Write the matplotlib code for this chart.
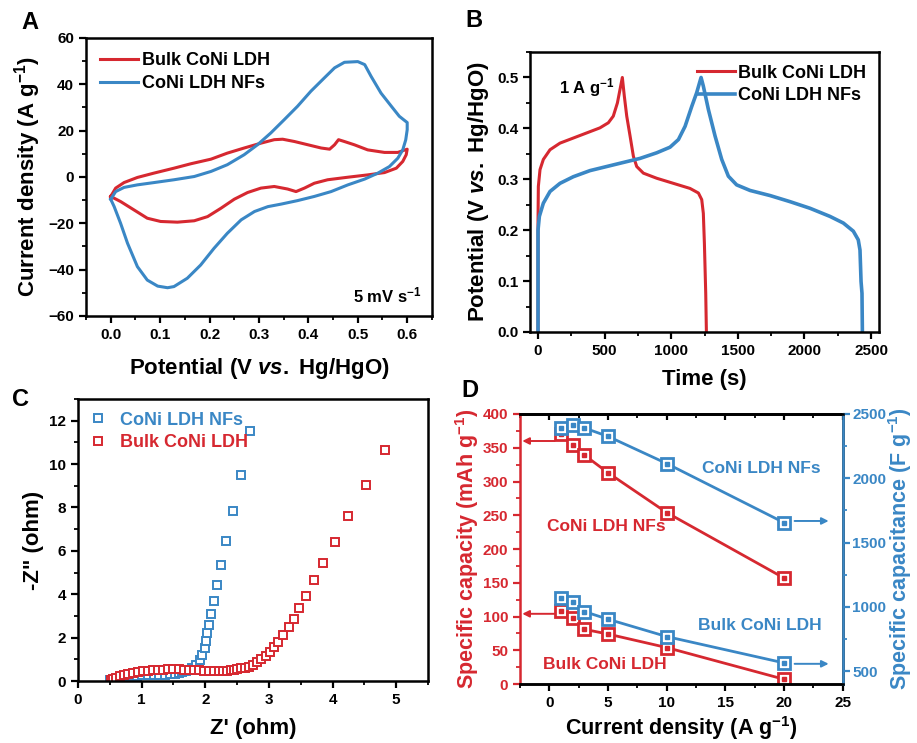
import matplotlib
matplotlib.use('Agg')
import matplotlib.pyplot as plt
from matplotlib.ticker import MultipleLocator, NullFormatter
import numpy as np

plt.rcParams['font.family'] = ['Liberation Sans', 'DejaVu Sans']
plt.rcParams['font.weight'] = 'bold'
plt.rcParams['axes.labelweight'] = 'bold'
plt.rcParams['mathtext.fontset'] = 'custom'
plt.rcParams['mathtext.rm'] = 'Liberation Sans:bold'
plt.rcParams['mathtext.it'] = 'Liberation Sans:bold:italic'
plt.rcParams['mathtext.bf'] = 'Liberation Sans:bold'
plt.rcParams['mathtext.default'] = 'rm'

RED = '#D62830'
BLUE = '#3A87C5'

# ---- A: CV at 5 mV/s ----
cv_bulk_v = [0.0, 0.01, 0.027, 0.054, 0.088, 0.128, 0.162, 0.203, 0.236, 0.27, 0.304, 0.331, 0.348,
             0.372, 0.399, 0.426, 0.443, 0.453, 0.461, 0.473, 0.493, 0.52, 0.554, 0.581, 0.6,
             0.598, 0.591, 0.578, 0.554, 0.52, 0.48, 0.439, 0.412, 0.392, 0.375, 0.358, 0.331,
             0.304, 0.277, 0.25, 0.223, 0.196, 0.169, 0.135, 0.101, 0.074, 0.047, 0.02, 0.0]
cv_bulk_i = [-8.4, -4.8, -2.4, -0.2, 1.7, 3.8, 5.7, 7.7, 10.3, 12.5, 14.6, 16.1, 16.3,
             15.3, 13.9, 12.5, 12.0, 13.9, 16.1, 15.3, 13.9, 11.7, 10.6, 10.6, 12.0,
             9.6, 6.7, 3.8, 1.9, 0.9, -0.1, -1.2, -2.7, -4.8, -6.3, -5.2, -4.1,
             -4.8, -6.7, -9.6, -13.5, -17.1, -18.9, -19.5, -19.2, -17.8, -14.2, -10.6, -8.4]
cv_nfs_v = [0.0, 0.01, 0.027, 0.054, 0.088, 0.128, 0.169, 0.203, 0.236, 0.27, 0.297, 0.324, 0.351,
            0.378, 0.405, 0.432, 0.453, 0.473, 0.5, 0.514, 0.527, 0.547, 0.568, 0.584, 0.6,
            0.6, 0.597, 0.591, 0.581, 0.564, 0.541, 0.514, 0.48, 0.446, 0.412, 0.378, 0.345,
            0.318, 0.291, 0.264, 0.236, 0.209, 0.182, 0.155, 0.128, 0.115, 0.095, 0.074, 0.054,
            0.034, 0.02, 0.007, 0.0]
cv_nfs_i = [-9.6, -6.3, -4.5, -3.4, -2.4, -1.2, 0.2, 2.4, 5.3, 9.6, 13.9, 19.0, 24.7,
            30.5, 37.0, 42.7, 47.1, 49.5, 49.8, 48.5, 43.4, 36.2, 30.5, 26.2, 23.5,
            20.4, 16.0, 11.7, 8.1, 4.5, 1.7, -0.9, -3.4, -6.3, -8.4, -10.2, -11.7,
            -12.8, -14.9, -18.5, -24.3, -30.8, -38.0, -43.7, -47.3, -47.8, -47.1, -44.5, -38.7,
            -28.6, -20.0, -12.8, -9.6]

# ---- B: GCD at 1 A/g ----
gcd_bulk_t = [0, 0, 2.5, 15, 40, 90, 165, 265, 365, 465, 528, 565, 596, 616, 633,
              648, 666, 691, 716, 741, 791, 891, 1016, 1141, 1204, 1229, 1241, 1249, 1259, 1264]
gcd_bulk_v = [0, 0.22, 0.286, 0.319, 0.339, 0.358, 0.371, 0.381, 0.391, 0.401, 0.411, 0.424, 0.45, 0.477, 0.5,
              0.463, 0.424, 0.385, 0.345, 0.325, 0.312, 0.302, 0.292, 0.282, 0.273, 0.26, 0.233, 0.174, 0.076, 0]
gcd_nfs_t = [0, 0, 10, 40, 90, 165, 265, 390, 515, 640, 766, 891, 991, 1054, 1104, 1154, 1191, 1224,
             1241, 1279, 1329, 1379, 1429, 1491, 1592, 1742, 1892, 2042, 2192, 2292, 2367, 2404,
             2417, 2425, 2432, 2435]
gcd_nfs_v = [0, 0.2, 0.227, 0.253, 0.276, 0.292, 0.305, 0.317, 0.325, 0.333, 0.341, 0.352, 0.363, 0.378,
             0.404, 0.443, 0.47, 0.5,
             0.483, 0.437, 0.385, 0.339, 0.306, 0.289, 0.278, 0.268, 0.256, 0.243, 0.227, 0.214, 0.198, 0.181,
             0.161, 0.099, 0.076, 0]

# ---- C: Nyquist ----
eis_nfs_x = [0.5, 0.54, 0.6, 0.67, 0.75, 0.83, 0.92, 1.01, 1.1, 1.19, 1.28, 1.37, 1.45, 1.52, 1.58,
             1.64, 1.69, 1.73, 1.79, 1.86, 1.91, 1.95, 1.99, 2.01, 2.03, 2.06, 2.09, 2.13, 2.18,
             2.24, 2.33, 2.43, 2.555, 2.70]
eis_nfs_y = [0.03, 0.07, 0.11, 0.15, 0.19, 0.22, 0.24, 0.26, 0.27, 0.28, 0.29, 0.3, 0.31, 0.33, 0.36,
             0.4, 0.45, 0.51, 0.59, 0.74, 0.97, 1.2, 1.51, 1.84, 2.2, 2.59, 3.08, 3.70, 4.44,
             5.35, 6.46, 7.84, 9.50, 11.54]
eis_bulk_x = [0.52, 0.55, 0.6, 0.66, 0.72, 0.79, 0.86, 0.94, 1.02, 1.1, 1.18, 1.26, 1.34, 1.42, 1.5,
              1.58, 1.66, 1.74, 1.82, 1.9, 1.98, 2.06, 2.14, 2.21, 2.28, 2.34, 2.4, 2.45, 2.5, 2.56,
              2.62, 2.69, 2.75, 2.81, 2.88, 2.95, 3.01, 3.08, 3.15, 3.22, 3.31, 3.39, 3.48, 3.58,
              3.71, 3.85, 4.04, 4.25, 4.52, 4.82]
eis_bulk_y = [0.04, 0.1, 0.16, 0.22, 0.28, 0.33, 0.38, 0.42, 0.45, 0.48, 0.5, 0.52, 0.53, 0.54, 0.54,
              0.54, 0.53, 0.52, 0.5, 0.49, 0.47, 0.46, 0.45, 0.45, 0.46, 0.48, 0.5, 0.53, 0.56, 0.6,
              0.6, 0.66, 0.76, 0.88, 1.0, 1.17, 1.36, 1.56, 1.82, 2.11, 2.48, 2.88, 3.35, 3.93,
              4.64, 5.46, 6.43, 7.62, 9.02, 10.64]

# ---- D: rate capability ----
current = [1, 2, 3, 5, 10, 20]
cap_nfs = [370, 354, 339, 313, 254, 157]
cap_bulk = [108, 98, 81, 74, 54, 7]
spc_nfs = [2391, 2417, 2391, 2326, 2115, 1655]
spc_bulk = [1071, 1038, 963, 904, 769, 564]

fig = plt.figure(figsize=(9.17, 7.43), dpi=100)

TICK = 11
LAB = 16


def style(ax, xmaj, xmin, ymaj, ymin):
    for s in ax.spines.values():
        s.set_linewidth(1.8)
    ax.xaxis.set_major_locator(MultipleLocator(xmaj))
    ax.xaxis.set_minor_locator(MultipleLocator(xmin))
    ax.yaxis.set_major_locator(MultipleLocator(ymaj))
    ax.yaxis.set_minor_locator(MultipleLocator(ymin))
    ax.tick_params(which='major', direction='out', length=5, width=1.6, labelsize=TICK)
    ax.tick_params(which='minor', direction='out', length=3, width=1.3)
    ax.tick_params(top=False, right=False, which='both')


# A
axA = fig.add_axes([0.0938, 0.5747, 0.3772, 0.3742])
axA.plot(cv_bulk_v, cv_bulk_i, color=RED, lw=2.2, label='Bulk CoNi LDH', solid_joinstyle='round')
axA.plot(cv_nfs_v, cv_nfs_i, color=BLUE, lw=2.2, label='CoNi LDH NFs', solid_joinstyle='round')
axA.set_xlim(-0.05, 0.65)
axA.set_ylim(-60, 60)
style(axA, 0.1, 0.05, 20, 10)
axA.set_xlabel('Potential (V $\\mathit{vs.}$ Hg/HgO)', fontsize=LAB, labelpad=10)
axA.set_ylabel('Current density (A g$^{-1}$)', fontsize=LAB)
axA.legend(loc='upper left', frameon=False, fontsize=13, handlelength=2.1, handletextpad=0.2,
           borderaxespad=0.4, labelspacing=0.3)
axA.text(0.63, -51, '5 mV s$^{-1}$', fontsize=12, ha='right', va='center')

# B
axB = fig.add_axes([0.578, 0.5532, 0.3806, 0.3768])
axB.plot(gcd_bulk_t, gcd_bulk_v, color=RED, lw=2.2, label='Bulk CoNi LDH', solid_joinstyle='round')
axB.plot(gcd_nfs_t, gcd_nfs_v, color=BLUE, lw=2.6, label='CoNi LDH NFs', solid_joinstyle='round')
axB.set_xlim(-60, 2560)
axB.set_ylim(0, 0.55)
style(axB, 500, 250, 0.1, 0.05)
axB.set_xlabel('Time (s)', fontsize=LAB, labelpad=8)
axB.set_ylabel('Potential (V $\\mathit{vs.}$ Hg/HgO)', fontsize=LAB)
axB.legend(loc='upper right', frameon=False, fontsize=13, handlelength=2.1, handletextpad=0.2,
           borderaxespad=0.3, labelspacing=0.3)
axB.text(160, 0.48, '1 A g$^{-1}$', fontsize=12, ha='left', va='center')

# C
axC = fig.add_axes([0.0851, 0.0834, 0.3816, 0.3796])
axC.plot(eis_nfs_x, eis_nfs_y, ls='none', marker='s', ms=5.5, mfc='white', mec=BLUE, mew=1.4,
         label='CoNi LDH NFs')
axC.plot(eis_bulk_x, eis_bulk_y, ls='none', marker='s', ms=5.5, mfc='white', mec=RED, mew=1.4,
         label='Bulk CoNi LDH')
axC.set_xlim(0, 5.5)
axC.set_ylim(0, 13)
style(axC, 1, 0.5, 2, 1)
axC.set_xlabel("Z' (ohm)", fontsize=LAB, labelpad=8)
axC.set_ylabel('-Z" (ohm)', fontsize=LAB)
legC = axC.legend(loc='upper left', frameon=False, fontsize=13, handlelength=0.8, handletextpad=0.8,
                  borderaxespad=0.3, labelspacing=0.3, borderpad=0.4)
for t, c in zip(legC.get_texts(), [BLUE, RED]):
    t.set_color(c)

# D
axD = fig.add_axes([0.567, 0.0794, 0.352, 0.3634])
axD2 = axD.twinx()
mk = dict(marker='s', ms=8, mfc='white', mew=2, lw=2)
axD.plot(current, cap_nfs, color=RED, mec=RED, **mk)
axD.plot(current, cap_bulk, color=RED, mec=RED, **mk)
axD.plot(current, cap_nfs, ls='none', marker='s', ms=2.5, color=RED)
axD.plot(current, cap_bulk, ls='none', marker='s', ms=2.5, color=RED)
axD2.plot(current, spc_nfs, color=BLUE, mec=BLUE, **mk)
axD2.plot(current, spc_bulk, color=BLUE, mec=BLUE, **mk)
axD2.plot(current, spc_nfs, ls='none', marker='s', ms=2.5, color=BLUE)
axD2.plot(current, spc_bulk, ls='none', marker='s', ms=2.5, color=BLUE)
axD.set_xlim(-2.5, 25)
axD.set_ylim(0, 400)
axD2.set_ylim(400, 2500)
style(axD, 5, 2.5, 50, 25)
for s in axD2.spines.values():
    s.set_linewidth(1.8)
axD.tick_params(axis='y', colors=RED, which='both')
axD.spines['left'].set_color(RED)
axD2.spines['left'].set_visible(False)
axD2.spines['right'].set_color(BLUE)
axD2.yaxis.set_major_locator(MultipleLocator(500))
axD2.yaxis.set_minor_locator(MultipleLocator(250))
axD2.tick_params(axis='y', which='major', colors=BLUE, direction='out', length=5, width=1.6, labelsize=TICK, pad=2)
axD2.tick_params(axis='y', which='minor', colors=BLUE, direction='out', length=3, width=1.3)
topD = axD.secondary_xaxis('top')
topD.xaxis.set_major_locator(MultipleLocator(5))
topD.xaxis.set_minor_locator(MultipleLocator(2.5))
topD.xaxis.set_major_formatter(NullFormatter())
topD.tick_params(which='major', direction='in', length=4, width=1.6)
topD.tick_params(which='minor', direction='in', length=3, width=1.3)
topD.spines['top'].set_linewidth(1.8)
axD.set_xlabel('Current density (A g$^{-1}$)', fontsize=15.5, labelpad=3)
axD.set_ylabel('Specific capacity (mAh g$^{-1}$)', fontsize=15.5, color=RED, labelpad=1)
axD2.set_ylabel('Specific capacitance (F g$^{-1}$)', fontsize=15.5, color=BLUE, labelpad=0)
axD.text(4.9, 233, 'CoNi LDH NFs', color=RED, fontsize=12.5, ha='center', va='center')
axD.text(4.7, 29, 'Bulk CoNi LDH', color=RED, fontsize=12.5, ha='center', va='center')
axD2.text(18.1, 2076, 'CoNi LDH NFs', color=BLUE, fontsize=12.5, ha='center', va='center')
axD2.text(17.9, 854, 'Bulk CoNi LDH', color=BLUE, fontsize=12.5, ha='center', va='center')
arr_r = dict(arrowstyle='-|>', color=RED, lw=1.4, mutation_scale=10, shrinkA=0, shrinkB=0)
arr_b = dict(arrowstyle='-|>', color=BLUE, lw=1.4, mutation_scale=10, shrinkA=0, shrinkB=0)
axD.annotate('', xy=(-2.3, 360), xytext=(0.45, 360), arrowprops=arr_r)
axD.annotate('', xy=(-2.3, 104), xytext=(0.45, 104), arrowprops=arr_r)
axD2.annotate('', xy=(23.8, 1668), xytext=(20.9, 1668), arrowprops=arr_b)
axD2.annotate('', xy=(23.8, 557), xytext=(20.9, 557), arrowprops=arr_b)

fig.text(0.033, 0.970, 'A', fontsize=17, ha='center', va='center')
fig.text(0.517, 0.972, 'B', fontsize=17, ha='center', va='center')
fig.text(0.022, 0.462, 'C', fontsize=17, ha='center', va='center')
fig.text(0.513, 0.475, 'D', fontsize=17, ha='center', va='center')

fig.savefig('out.png', dpi=100)
